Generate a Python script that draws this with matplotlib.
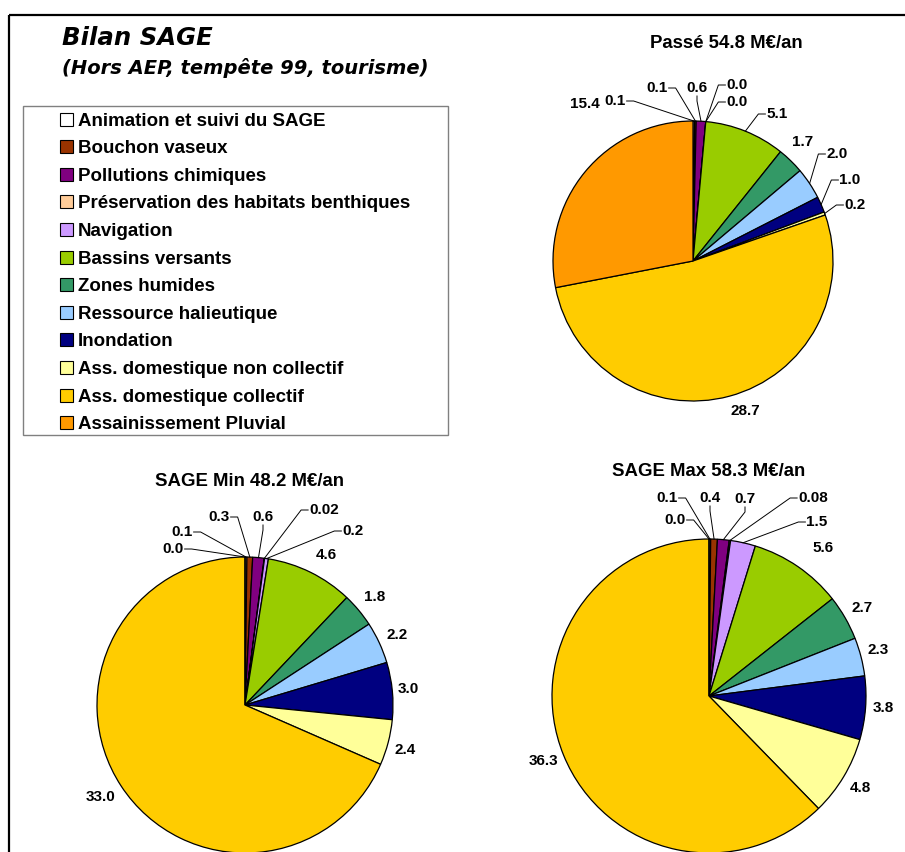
import matplotlib
matplotlib.use("Agg")
import matplotlib.pyplot as plt
from matplotlib.patches import Rectangle
import numpy as np

# ---- data -------------------------------------------------------------
categories = [
    "Animation et suivi du SAGE",
    "Bouchon vaseux",
    "Pollutions chimiques",
    "Préservation des habitats benthiques",
    "Navigation",
    "Bassins versants",
    "Zones humides",
    "Ressource halieutique",
    "Inondation",
    "Ass. domestique non collectif",
    "Ass. domestique collectif",
    "Assainissement Pluvial",
]
colors = ["#FFFFFF", "#993300", "#800080", "#FFCC99", "#CC99FF", "#99CC00",
          "#339966", "#99CCFF", "#000080", "#FFFF99", "#FFCC00", "#FF9900"]

passe = [0.1, 0.1, 0.6, 0.0, 0.0, 5.1, 1.7, 2.0, 1.0, 0.2, 28.7, 15.4]
sage_min = [0.1, 0.3, 0.6, 0.02, 0.2, 4.6, 1.8, 2.2, 3.0, 2.4, 33.0, 0.0]
sage_max = [0.1, 0.4, 0.7, 0.08, 1.5, 5.6, 2.7, 2.3, 3.8, 4.8, 36.3, 0.0]

pie_titles = ["Passé 54.8 M€/an", "SAGE Min 48.2 M€/an", "SAGE Max 58.3 M€/an"]
main_title = "Bilan SAGE"
subtitle = "(Hors AEP, tempête 99, tourisme)"

# ---- layout (pixels, y measured from the top) -------------------------
W, H = 905, 852
pies = [
    dict(values=passe, center=(693, 261), radius=140, title=pie_titles[0],
         title_xy=(726, 44),
         labels=[(-78, -160, "r"), (-36, -173, "r"), (4, -173, "b"),
                 (44, -176, "l"), (44, -159, "l"), (84, -147, "l"),
                 (110, -119, None), (144, -107, "l"), (157, -81, "l"),
                 (162, -56, "l"), (52, 150, None), (-108, -157, None)]),
    dict(values=sage_min, center=(245, 705), radius=148, title=pie_titles[1],
         title_xy=(249, 482),
         labels=[(-63, -173, "r"), (-26, -188, "r"), (18, -188, "b"),
                 (79, -195, "l"), (108, -174, "l"), (81, -150, None),
                 (130, -108, None), (152, -70, None), (163, -16, None),
                 (160, 45, None), (-144, 92, None), (-72, -156, "r")]),
    dict(values=sage_max, center=(709, 696), radius=157, title=pie_titles[2],
         title_xy=(709, 472),
         labels=[(-42, -198, "r"), (1, -198, "b"), (36, -197, "b"),
                 (104, -198, "l"), (108, -174, "l"), (114, -148, None),
                 (153, -88, None), (169, -46, None), (174, 12, None),
                 (151, 92, None), (-166, 65, None), (-34, -176, "r")]),
]

LABEL_FONT = dict(family="Liberation Sans", weight="bold", size=11)
TITLE_FONT = dict(family="Liberation Sans", weight="bold", size=13.4)


def Y(y):
    return H - y


def fmt(v):
    return f"{v:.2f}" if round(v, 1) != v else f"{v:.1f}"


fig = plt.figure(figsize=(W / 100, H / 100), dpi=100)
ax = fig.add_axes([0, 0, 1, 1])

# outer frame (top and left edges)
ax.plot([9, W], [Y(15), Y(15)], color="black", lw=1.6, solid_capstyle="butt")
ax.plot([9, 9], [Y(15), Y(H)], color="black", lw=1.6, solid_capstyle="butt")

# titles
ax.text(62, Y(38), main_title, family="DejaVu Sans", style="italic",
        weight="bold", size=17.6, ha="left", va="center")
ax.text(62, Y(68), subtitle, family="DejaVu Sans", style="italic",
        weight="bold", size=14.0, ha="left", va="center")

# legend box
ax.add_patch(Rectangle((23, Y(435)), 425, 329, facecolor="white",
                       edgecolor="#808080", lw=1.0, zorder=2))
for i, (cat, col) in enumerate(zip(categories, colors)):
    yc = 119 + i * 27.6
    ax.add_patch(Rectangle((60, Y(yc) - 6.5), 13, 13, facecolor=col,
                           edgecolor="black", lw=0.8, zorder=3))
    ax.text(78, Y(yc), cat, family="Liberation Sans", weight="bold",
            size=13.5, ha="left", va="center_baseline", zorder=3)

pending = []
for p in pies:
    cx, cy = p["center"]
    r = p["radius"]
    wedges, _ = ax.pie(p["values"], colors=colors, startangle=90,
                       counterclock=False, center=(cx, Y(cy)), radius=r,
                       frame=True,
                       wedgeprops=dict(edgecolor="black", linewidth=0.9))
    ax.text(p["title_xy"][0], Y(p["title_xy"][1]), p["title"], ha="center",
            va="center", **TITLE_FONT)
    for w, v, (dx, dy, lead) in zip(wedges, p["values"], p["labels"]):
        mid = np.deg2rad((w.theta1 + w.theta2) / 2)
        edge = (cx + r * np.cos(mid), Y(cy) + r * np.sin(mid))
        t = ax.text(cx + dx, Y(cy + dy), fmt(v), ha="center", va="center",
                    **LABEL_FONT)
        if lead:
            pending.append((t, lead, edge))

ax.set_xlim(0, W)
ax.set_ylim(0, H)
ax.set_aspect("equal")
ax.set_axis_off()

# leader lines from labels to their slices
fig.canvas.draw()
renderer = fig.canvas.get_renderer()
inv = ax.transData.inverted()
for t, lead, edge in pending:
    bb = t.get_window_extent(renderer).transformed(inv)
    ymid = (bb.y0 + bb.y1) / 2
    xmid = (bb.x0 + bb.x1) / 2
    if lead == "r":
        pts = [(bb.x1 + 1, ymid), (bb.x1 + 8, ymid), edge]
    elif lead == "l":
        pts = [(bb.x0 - 1, ymid), (bb.x0 - 8, ymid), edge]
    else:
        pts = [(xmid, bb.y0 - 1), (xmid, bb.y0 - 6), edge]
    xs, ys = zip(*pts)
    ax.plot(xs, ys, color="black", lw=0.7)

fig.savefig("out.png", dpi=100, facecolor="white")
